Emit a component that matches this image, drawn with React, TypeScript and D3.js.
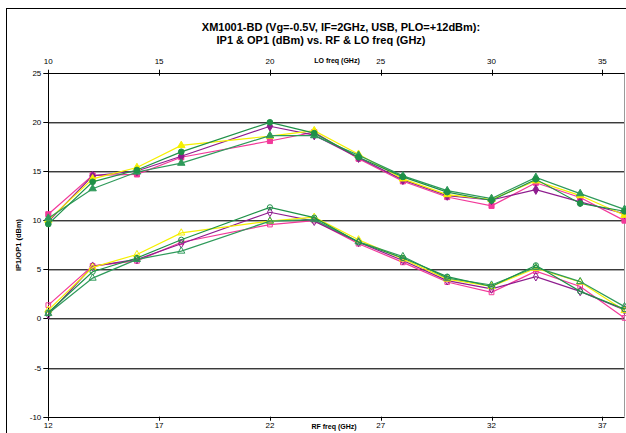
import React from "react";
import * as d3 from "d3";

const rfFreq = [12, 14, 16, 18, 22, 24, 26, 28, 30, 32, 34, 36, 38];
const yTicks = [-10, -5, 0, 5, 10, 15, 20, 25];
const rfTicks = [12, 17, 22, 27, 32, 37];
const loTicks = [10, 15, 20, 25, 30, 35];

// IP1 (upper group, filled markers)
const ip1Pink = [10.6, 14.55, 14.65, 16.4, 18.05, 18.95, 16.25, 13.95, 12.35, 11.45, 13.8, 12.3, 9.95];
const ip1Purple = [9.85, 14.5, 15.0, 16.5, 19.55, 18.65, 16.35, 14.1, 12.5, 12.05, 13.1, 11.85, 10.65];
const ip1Yellow = [10.0, 14.2, 15.35, 17.6, 18.55, 19.1, 16.7, 14.2, 12.6, 12.1, 14.0, 12.5, 10.5];
const ip1GreenTri = [10.2, 13.2, 14.9, 15.8, 18.6, 18.6, 16.6, 14.5, 13.0, 12.2, 14.35, 12.7, 11.1];
const ip1GreenCirc = [9.6, 13.9, 15.1, 16.95, 19.95, 18.85, 16.4, 14.4, 12.85, 12.0, 14.15, 11.7, 10.9];

// OP1 (lower group, hollow markers)
const op1Pink = [1.35, 5.35, 5.85, 7.75, 9.55, 9.95, 7.6, 5.7, 3.7, 2.65, 4.8, 3.25, 0.05];
const op1Purple = [0.4, 5.3, 6.0, 7.6, 10.8, 9.9, 7.75, 5.9, 3.85, 3.0, 4.25, 2.75, 0.85];
const op1Yellow = [0.85, 5.2, 6.5, 8.7, 9.9, 10.3, 8.0, 6.05, 4.0, 3.25, 5.1, 3.7, 0.8];
const op1GreenTri = [0.5, 4.1, 6.0, 6.85, 9.9, 10.05, 7.8, 6.3, 4.1, 3.4, 5.2, 3.75, 1.2];
const op1GreenCirc = [0.6, 4.75, 6.15, 8.0, 11.3, 10.25, 7.75, 6.15, 4.25, 3.25, 5.4, 2.75, 0.95];

const colors = { pink: "#F2399A", purple: "#8E1C8E", yellow: "#F5F000", greenTri: "#2E9A5A", greenCirc: "#1F9148" };

type Series = { values: number[]; color: string; shape: d3.SymbolType; size: number; filled: boolean };

const series: Series[] = [
  { values: op1Pink, color: colors.pink, shape: d3.symbolSquare, size: 22, filled: false },
  { values: op1Purple, color: colors.purple, shape: d3.symbolDiamond, size: 22, filled: false },
  { values: op1Yellow, color: colors.yellow, shape: d3.symbolTriangle, size: 22, filled: false },
  { values: op1GreenTri, color: colors.greenTri, shape: d3.symbolTriangle, size: 22, filled: false },
  { values: op1GreenCirc, color: colors.greenCirc, shape: d3.symbolCircle, size: 22, filled: false },
  { values: ip1Pink, color: colors.pink, shape: d3.symbolSquare, size: 26, filled: true },
  { values: ip1Purple, color: colors.purple, shape: d3.symbolDiamond, size: 26, filled: true },
  { values: ip1Yellow, color: colors.yellow, shape: d3.symbolTriangle, size: 24, filled: true },
  { values: ip1GreenTri, color: colors.greenTri, shape: d3.symbolTriangle, size: 24, filled: true },
  { values: ip1GreenCirc, color: colors.greenCirc, shape: d3.symbolCircle, size: 26, filled: true },
];

export default function App() {
  const W = 626, H = 433;
  const x = d3.scaleLinear().domain([12, 38]).range([48.3, 624.5]);
  const xLo = d3.scaleLinear().domain([10, 36]).range([48.3, 624.5]);
  const y = d3.scaleLinear().domain([-10, 25]).range([416.7, 72.7]);
  const line = d3.line<number>().x((_, i) => x(rfFreq[i])).y((v) => y(v));
  const font = "'Liberation Sans', Arial, sans-serif";
  const x0 = x(12), x1 = x(38), yTop = y(25), yBot = y(-10);

  return (
    <svg width={W} height={H} style={{ position: "absolute", left: 0, top: 0, background: "#fff" }} fontFamily={font}>
      <rect x={0} y={0} width={W} height={H} fill="#fff" />
      {/* outer chart border */}
      <rect x={6.5} y={8.5} width={700} height={500} fill="none" stroke="#000" strokeWidth={1} />
      {/* title */}
      <text x={341} y={30.5} textAnchor="middle" fontSize={11} fontWeight="bold">XM1001-BD (Vg=-0.5V, IF=2GHz, USB, PLO=+12dBm):</text>
      <text x={321} y={44} textAnchor="middle" fontSize={11} fontWeight="bold">IP1 &amp; OP1 (dBm) vs. RF &amp; LO freq (GHz)</text>

      {/* gridlines */}
      {yTicks.filter((t) => t > -10 && t < 25).map((t) => (
        <g key={"g" + t}>
          <line x1={x0} x2={x1} y1={Math.round(y(t)) + 0.5} y2={Math.round(y(t)) + 0.5} stroke="#3a3a3a" strokeWidth={1} />
          <line x1={x0} x2={x1} y1={Math.round(y(t)) + 1.5} y2={Math.round(y(t)) + 1.5} stroke="#a8a8a8" strokeWidth={1} />
        </g>
      ))}
      {/* right plot border */}
      <line x1={Math.round(x1) - 0.5} x2={Math.round(x1) - 0.5} y1={yTop} y2={yBot} stroke="#9a9a9a" strokeWidth={1} />

      {/* left axis */}
      <line x1={Math.round(x0) + 0.5} x2={Math.round(x0) + 0.5} y1={yTop} y2={yBot} stroke="#000" />
      {yTicks.map((t) => (
        <g key={"y" + t}>
          <line x1={x0 - 5} x2={x0} y1={Math.round(y(t)) + 0.5} y2={Math.round(y(t)) + 0.5} stroke="#000" />
          <text x={x0 - 7} y={y(t) + 3} textAnchor="end" fontSize={8}>{t}</text>
        </g>
      ))}
      <text transform={`translate(21,${245}) rotate(-90)`} textAnchor="middle" fontSize={7.5} fontWeight="bold">IP1/OP1 (dBm)</text>

      {/* top LO axis */}
      <line x1={x0} x2={x1} y1={Math.round(yTop) + 0.5} y2={Math.round(yTop) + 0.5} stroke="#000" />
      {loTicks.map((t) => (
        <g key={"lo" + t}>
          <line x1={Math.round(xLo(t)) + 0.5} x2={Math.round(xLo(t)) + 0.5} y1={yTop - 3} y2={yTop + 3} stroke="#000" />
          <text x={xLo(t)} y={64} textAnchor="middle" fontSize={8}>{t}</text>
        </g>
      ))}
      <text x={337} y={63} textAnchor="middle" fontSize={7} fontWeight="bold">LO freq (GHz)</text>

      {/* bottom RF axis */}
      <line x1={x0} x2={x1} y1={Math.round(yBot) + 0.5} y2={Math.round(yBot) + 0.5} stroke="#000" />
      {rfTicks.map((t) => (
        <g key={"rf" + t}>
          <line x1={Math.round(x(t)) + 0.5} x2={Math.round(x(t)) + 0.5} y1={yBot} y2={yBot + 4} stroke="#000" />
          <text x={x(t)} y={428} textAnchor="middle" fontSize={8}>{t}</text>
        </g>
      ))}
      <text x={334} y={429} textAnchor="middle" fontSize={7} fontWeight="bold">RF freq (GHz)</text>

      {/* series */}
      {series.map((s, si) => (
        <g key={"s" + si}>
          <path d={line(s.values) || ""} fill="none" stroke={s.color} strokeWidth={1.2} />
          {s.values.map((v, i) => (
            <path
              key={i}
              d={d3.symbol().type(s.shape).size(s.size)() || ""}
              transform={`translate(${x(rfFreq[i])},${y(v)})`}
              fill={s.filled ? s.color : "none"}
              stroke={s.color}
              strokeWidth={1}
            />
          ))}
        </g>
      ))}
    </svg>
  );
}
